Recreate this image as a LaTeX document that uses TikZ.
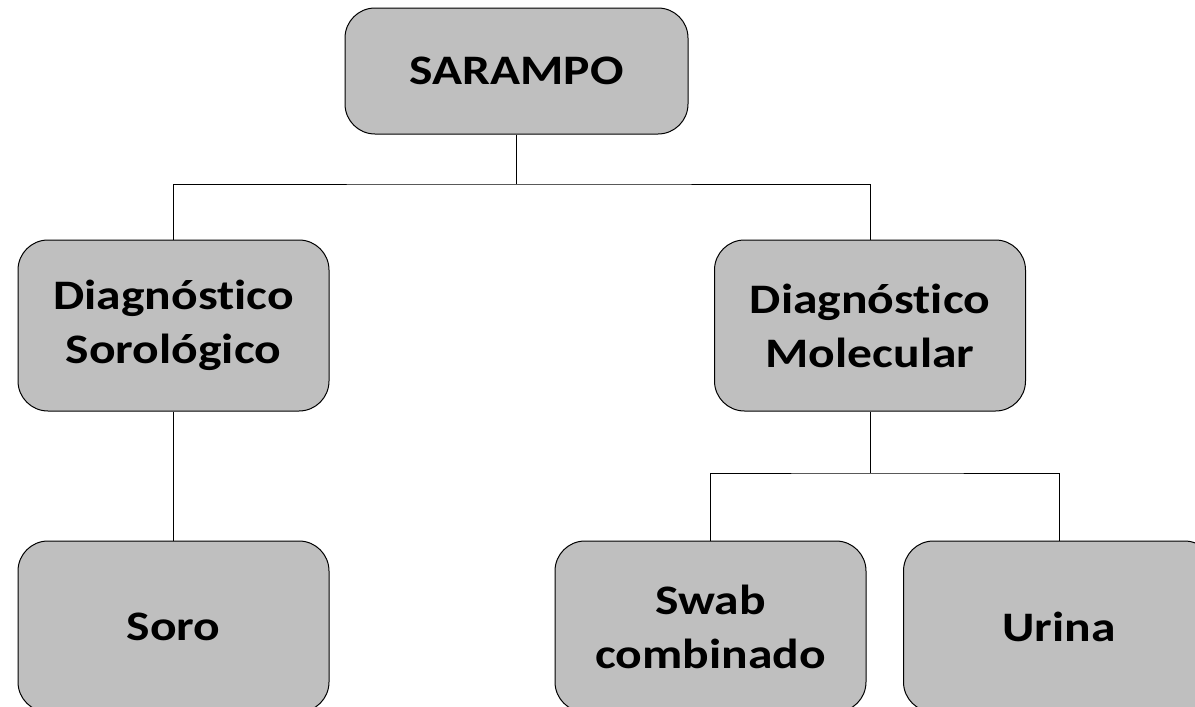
\documentclass[tikz,border=0pt]{standalone}
\usepackage{fontspec}
\setmainfont{Carlito}[FakeStretch=1.18, Ligatures={NoCommon}]
\usepackage{tikz}
\definecolor{boxgray}{HTML}{BFBFBF}
\tikzstyle{Box}=[rectangle, rounded corners=30pt, draw=black, line width=1pt, fill=boxgray, text centered, align=center, minimum width=311pt, minimum height=171pt, font=\fontsize{42}{54}\selectfont\bfseries]

\begin{document}
\begin{tikzpicture}[x=1pt, y=-1pt]
    \useasboundingbox (0,0) rectangle (1195,707);
    \begin{scope}
    \clip (0,0) rectangle (1195,707);
    \path
    (516.5,71) node[Box, minimum width=343pt, minimum height=126pt] (sarampo) {SARAMPO}
    (173.5,325.5) node[Box] (sorol) {Diagnóstico\\Sorológico}
    (870,325.5) node[Box] (molec) {Diagnóstico\\Molecular}
    (173.5,626.5) node[Box] (soro) {Soro}
    (710.5,626.5) node[Box] (swab) {Swab\\combinado}
    (1059,626.5) node[Box] (urina) {Urina};

    \coordinate (bar1) at (516.5,184);
    \coordinate (bar2) at (870,473);

    \draw[line width=1pt] (sarampo) -- (bar1);
    \draw[line width=1pt] (sorol) |- (bar1) -| (molec);
    \draw[line width=1pt] (sorol) -- (soro);
    \draw[line width=1pt] (molec) -- (bar2);
    \draw[line width=1pt] (swab) |- (bar2) -| (urina);
    \end{scope}
\end{tikzpicture}
\end{document}
